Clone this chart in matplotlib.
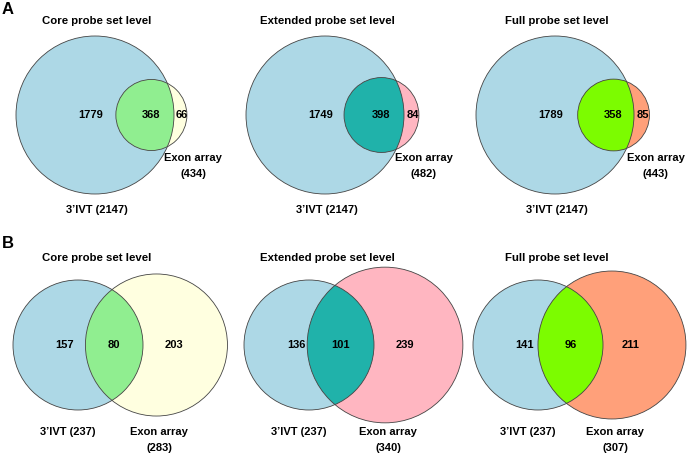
# -*- coding:utf-8 -*-
import numpy as np
import matplotlib.pyplot as plt
from matplotlib.patches import Circle

plt.rcParams['font.family'] = ['Liberation Sans', 'DejaVu Sans']

# data
levels = ['Core probe set level', 'Extended probe set level', 'Full probe set level']
# row A
a_ivt = [2147, 2147, 2147]
a_exon = [434, 482, 443]
a_both = [368, 398, 358]
# row B
b_ivt = [237, 237, 237]
b_exon = [283, 340, 307]
b_both = [80, 101, 96]

exon_colors = ['#FFFFE0', '#FFB6C1', '#FFA07A']
both_colors = ['#90EE90', '#20B2AA', '#7CFC00']
ivt_color = '#ADD8E6'


def lens_area(r1, r2, d):
    if d >= r1 + r2:
        return 0.0
    if d <= abs(r1 - r2):
        return np.pi * min(r1, r2) ** 2
    a1 = r1 ** 2 * np.arccos((d ** 2 + r1 ** 2 - r2 ** 2) / (2 * d * r1))
    a2 = r2 ** 2 * np.arccos((d ** 2 + r2 ** 2 - r1 ** 2) / (2 * d * r2))
    t = np.sqrt((-d + r1 + r2) * (d + r1 - r2) * (d - r1 + r2) * (d + r1 + r2))
    return a1 + a2 - 0.5 * t


def find_dist(r1, r2, target):
    lo, hi = abs(r1 - r2), r1 + r2
    for i in range(80):
        mid = (lo + hi) / 2
        if lens_area(r1, r2, mid) > target:
            lo = mid
        else:
            hi = mid
    return (lo + hi) / 2


def venn(ax, cx, cy, n1, n2, n12, scale, col2, col12, row):
    r1 = scale * np.sqrt(n1)
    r2 = scale * np.sqrt(n2)
    k = np.pi * r1 ** 2 / n1
    d = find_dist(r1, r2, n12 * k)
    x2 = cx + d
    c1 = Circle((cx, cy), r1, facecolor=ivt_color, edgecolor='none', zorder=1)
    c2 = Circle((x2, cy), r2, facecolor=col2, edgecolor='none', zorder=2)
    ax.add_patch(c1)
    ax.add_patch(c2)
    c12 = Circle((x2, cy), r2, facecolor=col12, edgecolor='none', zorder=3)
    ax.add_patch(c12)
    c12.set_clip_path(c1)
    for xx, rr in [(cx, r1), (x2, r2)]:
        ax.add_patch(Circle((xx, cy), rr, facecolor='none', edgecolor='#444444',
                            linewidth=0.6, zorder=4))
    lens_l = x2 - r2
    lens_r = cx + r1
    kw = dict(ha='center', va='center', fontsize=8, fontweight='bold', zorder=5)
    if row == 'A':
        ax.text(cx - 0.06 * r1, cy, str(n1 - n12), **kw)
        ax.text(x2, cy, str(n12), **kw)
        ax.text((lens_r + x2 + r2) / 2 + 1, cy, str(n2 - n12), **kw)
        ax.text(cx + 2, cy + r1 + 16, '3\u2019IVT (%d)' % n1, **kw)
        ax.text(x2 + 42, cy + 43, 'Exon array', **kw)
        ax.text(x2 + 42, cy + 59, '(%d)' % n2, **kw)
    else:
        ax.text(cx - 0.2 * r1, cy, str(n1 - n12), **kw)
        ax.text((lens_l + lens_r) / 2, cy, str(n12), **kw)
        ax.text(x2 + 0.25 * r2, cy, str(n2 - n12), **kw)
        ax.text(cx - 10, cy + 87, '3\u2019IVT (%d)' % n1, **kw)
        ax.text(x2 + 3, cy + 87, 'Exon array', **kw)
        ax.text(x2 + 3, cy + 103, '(%d)' % n2, **kw)


fig = plt.figure(figsize=(6.89, 4.53), dpi=100)
ax = fig.add_axes([0, 0, 1, 1])
ax.set_xlim(0, 689)
ax.set_ylim(453, 0)
ax.set_aspect('equal')
ax.axis('off')

a_x = [95, 325, 555]
b_x = [78, 309, 538]
for i in range(3):
    venn(ax, a_x[i], 115, a_ivt[i], a_exon[i], a_both[i], 79 / np.sqrt(2147),
         exon_colors[i], both_colors[i], 'A')
    ax.text(a_x[i] + 2, 21, levels[i], ha='center', va='center',
            fontsize=8.2, fontweight='bold')
    venn(ax, b_x[i], 345, b_ivt[i], b_exon[i], b_both[i], 65 / np.sqrt(237),
         exon_colors[i], both_colors[i], 'B')
    ax.text(a_x[i] + 2, 258, levels[i], ha='center', va='center',
            fontsize=8.2, fontweight='bold')

ax.text(8, 10, 'A', ha='center', va='center', fontsize=12, fontweight='bold')
ax.text(8, 243, 'B', ha='center', va='center', fontsize=12, fontweight='bold')

plt.savefig('out.png', dpi=100)
